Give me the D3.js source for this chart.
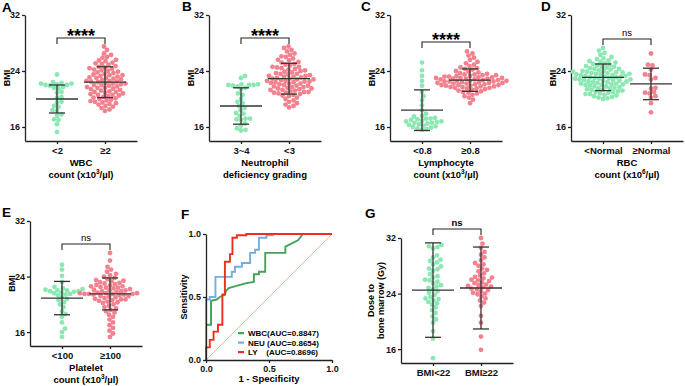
<!DOCTYPE html>
<html>
<head>
<meta charset="utf-8">
<script src="https://cdn.jsdelivr.net/npm/d3@7"></script>
<style>
  body { margin: 0; background: #fff; }
  svg text { font-family: "Liberation Sans", Arial, sans-serif; }
</style>
</head>
<body>
<div id="chart"></div>
<script>
// ---- data ----
const bmiTicks = [16, 24, 32];

const catsA = ["<2", "≥2"];
const wbcLow = [23.5,22.4,22.3,22.2,22.2,22.1,22.0,22.0,21.9,21.7,21.6,21.5,21.0,20.9,20.3,20.2,19.6,19.5,19.0,18.9,18.4,18.3,17.8,17.6,17.1,17.0,16.4,15.3];
const wbcHigh = [27.5,27.0,26.5,26.3,26.0,25.9,25.6,25.5,25.4,25.2,25.1,25.0,24.9,24.7,24.6,24.5,24.4,24.3,24.1,24.0,23.9,23.8,23.7,23.6,23.5,23.4,23.3,23.2,23.1,23.0,23.0,22.9,22.8,22.7,22.6,22.5,22.5,22.4,22.3,22.2,22.1,22.0,22.0,21.9,21.8,21.7,21.6,21.5,21.4,21.3,21.2,21.1,21.0,21.0,20.9,20.8,20.7,20.6,20.5,20.4,20.3,20.2,20.1,20.0,19.9,19.8,19.7,19.6,19.5,19.4,19.3,19.2,19.0,18.9,18.7,18.5,18.3,22.6,23.4,21.6,24.2,20.6,22.2];
const meanA = [20.0, 22.4], sdA = [2.0, 2.2];

const catsB = ["3~4", "<3"];
const neuLow = [23.3,23.0,22.1,22.0,22.0,22.1,21.9,22.0,21.8,21.6,21.4,20.8,20.6,20.0,19.6,19.4,19.0,18.7,18.4,18.0,17.9,17.6,17.2,17.1,17.0,17.2,16.5,16.2,15.8,15.6,15.5];
const neuHigh = [27.5,27.3,27.0,26.8,26.5,26.3,26.1,26.0,25.8,25.6,25.5,25.3,25.2,25.0,24.9,24.8,24.6,24.5,24.4,24.3,24.2,24.0,23.9,23.8,23.7,23.6,23.5,23.4,23.3,23.2,23.2,23.1,23.0,22.9,22.8,22.8,22.7,22.6,22.5,22.5,22.4,22.3,22.2,22.2,22.1,22.0,21.9,21.9,21.8,21.7,21.6,21.5,21.5,21.4,21.3,21.2,21.1,21.0,21.0,20.9,20.8,20.7,20.6,20.5,20.4,20.2,20.0,19.8,19.6,19.4,19.2,19.0,18.8,23.6,24.1,22.4,21.7,22.9,23.3,24.6,20.9,21.3,22.6];
const meanB = [19.0, 22.9], sdB = [2.6, 2.2];

const catsC = ["<0.8", "≥0.8"];
const lyLow = [25.2,24.1,23.3,22.6,21.9,21.0,20.4,19.8,19.1,18.4,17.9,17.6,17.5,17.3,17.2,17.2,17.1,17.0,16.9,16.8,16.8,16.7,16.6,16.6,16.5,16.4,16.3,16.2,16.1,16.0,15.9,15.8,15.7,15.6];
const lyHigh = [26.8,26.5,26.2,25.9,25.6,25.3,25.1,24.9,24.7,24.5,24.4,24.3,24.2,24.0,23.9,23.8,23.7,23.6,23.5,23.5,23.4,23.3,23.3,23.2,23.2,23.1,23.1,23.0,23.0,22.9,22.9,22.8,22.8,22.7,22.7,22.6,22.6,22.5,22.5,22.4,22.4,22.3,22.3,22.2,22.2,22.1,22.1,22.0,22.0,21.9,21.9,21.8,21.8,21.7,21.6,21.6,21.5,21.5,21.4,21.3,21.2,21.1,21.0,20.9,20.8,20.6,20.4,20.2,19.9,19.4,22.5,22.9,23.4,22.0,21.7,22.6,23.0,22.3];
const meanC = [18.4, 22.7], sdC = [2.9, 1.6];

const catsD = ["<Normal", "≥Normal"];
const rbcLow = [27.3,26.9,26.6,26.3,26.0,25.8,25.7,25.5,25.4,25.3,25.1,25.0,24.9,24.8,24.7,24.6,24.5,24.4,24.3,24.2,24.1,24.0,24.0,23.9,23.8,23.8,23.7,23.6,23.6,23.5,23.5,23.4,23.3,23.3,23.2,23.2,23.1,23.1,23.0,23.0,22.9,22.9,22.8,22.8,22.7,22.7,22.6,22.5,22.5,22.4,22.4,22.3,22.2,22.2,22.1,22.0,22.0,21.9,21.8,21.8,21.7,21.6,21.5,21.5,21.4,21.3,21.2,21.1,21.0,21.0,20.9,20.8,20.7,20.6,20.5,20.4,20.3,20.2,20.1,20.0,24.6,23.9,22.6,21.3,25.2,23.4,22.1,20.7,24.3,23.7];
const rbcHigh = [26.5,24.9,24.8,24.2,23.5,23.4,23.0,22.8,21.6,21.5,21.0,20.9,20.8,20.4,20.2,19.4,18.1];
const meanD = [23.1, 22.15], sdD = [1.9, 2.25];

const catsE = ["<100", "≥100"];
const pltLow = [25.7,25.0,24.1,23.2,22.5,22.2,22.1,22.0,22.0,21.9,21.9,21.8,21.7,21.6,21.5,21.3,21.0,20.8,20.6,20.3,20.0,19.6,19.0,18.6,18.2,17.4,16.5,16.0,15.3,21.4,22.3];
const pltHigh = [27.4,26.3,25.4,25.0,24.7,24.4,24.2,24.0,23.8,23.6,23.5,23.3,23.2,23.1,23.0,22.9,22.8,22.7,22.6,22.5,22.4,22.3,22.2,22.1,22.0,21.9,21.8,21.7,21.6,21.6,21.5,21.5,21.5,21.4,21.4,21.3,21.2,21.1,21.0,20.9,20.8,20.7,20.6,20.5,20.4,20.3,20.2,20.0,19.8,19.6,19.4,19.2,19.0,18.8,18.5,18.2,17.8,17.4,17.0,16.6,16.2,15.8,15.3,21.5,21.6,22.4,23.4,20.7,21.2,22.0,21.9,22.6];
const meanE = [20.9, 21.5], sdE = [2.4, 2.3];

const catsG = ["BMI<22", "BMI≥22"];
const doseLow = [31.0,30.8,30.7,30.5,29.5,29.2,28.9,28.7,28.5,28.2,27.6,27.5,27.3,26.8,26.5,26.0,25.7,25.5,25.2,25.0,24.6,24.3,24.1,23.8,23.5,23.2,23.0,22.8,22.4,22.0,21.6,21.2,20.7,20.3,19.8,18.6,17.5,14.7,26.3,27.9,24.8,23.3,22.6,25.9];
const doseHigh = [32.0,31.2,30.6,30.0,29.6,29.2,28.8,28.4,28.2,28.0,27.6,27.2,26.9,26.6,26.4,26.2,26.0,25.8,25.6,25.5,25.3,25.1,25.0,24.9,24.7,24.5,24.3,24.1,23.9,23.6,23.3,23.0,22.7,22.2,20.8,19.8,17.8,15.9,25.9,26.3,24.6,27.4,25.2,24.0];
const meanG = [24.5, 24.8], sdG = [6.8, 5.9];

// ROC curves (1 - specificity, sensitivity)
const rocTicks = [0, 0.5, 1];
const wbcFpr = [0,0,0.04,0.04,0.085,0.11,0.15,0.16,0.18,0.25,0.32,0.38,0.38,0.42,0.42,0.47,0.47,0.63,0.63,0.73,0.77,1];
const wbcTpr = [0,0.28,0.28,0.47,0.48,0.50,0.52,0.55,0.57,0.59,0.61,0.62,0.68,0.68,0.70,0.70,0.85,0.85,0.90,0.95,1,1];
const neuFpr = [0,0,0.03,0.03,0.075,0.075,0.205,0.205,0.23,0.23,0.285,0.285,0.35,0.35,0.39,0.39,0.42,0.42,0.48,0.48,0.53,0.53,1];
const neuTpr = [0,0.48,0.48,0.50,0.50,0.66,0.66,0.70,0.70,0.74,0.74,0.77,0.77,0.85,0.85,0.875,0.875,0.97,0.97,0.99,0.99,1,1];
const lyFpr = [0,0,0.03,0.03,0.06,0.06,0.095,0.095,0.13,0.13,0.15,0.15,0.19,0.19,0.21,0.21,0.245,0.245,0.32,0.32,1];
const lyTpr = [0,0.10,0.10,0.16,0.16,0.225,0.225,0.28,0.28,0.52,0.52,0.78,0.78,0.84,0.84,0.97,0.97,0.99,0.99,1,1];
const rocNames = ["WBC(AUC=0.8847)", "NEU (AUC=0.8654)", "LY    (AUC=0.8696)"];

// ---- drawing ----
const W = 685, H = 386;
const green = "#8be8b2", pink = "#f3818e", ink = "#222";

const svg = d3.select("#chart").append("svg")
    .attr("width", W)
    .attr("height", H);
svg.append("rect").attr("width", W).attr("height", H).attr("fill", "#fff");

function styleAxis(sel) {
    sel.select(".domain").attr("stroke", ink).attr("stroke-width", 1.3);
    sel.selectAll(".tick line").attr("stroke", ink).attr("stroke-width", 1.3);
    sel.selectAll(".tick text")
       .attr("fill", "#111")
       .style("font-size", "9px")
       .style("font-weight", "bold");
}

// simple beeswarm: each point slides sideways until it stops overlapping
function swarm(values, cx, y, minDist) {
    const placed = [];
    values.slice().sort((a, b) => a - b).forEach(v => {
        const py = y(v);
        let k = 0, dx;
        while (dx === undefined) {
            const cands = k === 0 ? [0] : [k * 0.5, -k * 0.5];
            dx = cands.find(c => placed.every(p => (p.x - c) ** 2 + (p.y - py) ** 2 >= minDist * minDist));
            k++;
        }
        placed.push({ x: dx, y: py });
    });
    return placed.map(p => ({ cx: cx + p.x, cy: p.y }));
}

function scatterPanel(p) {
    const g = svg.append("g");
    const y = d3.scaleLinear().domain([14, 32]).range([p.yBottom, p.yTop]);
    const x = d3.scalePoint().domain(p.cats).range([p.axisX, p.axisX + 112]).padding(2 / 3);

    g.append("g")
     .attr("transform", `translate(${p.axisX},0)`)
     .call(d3.axisLeft(y).tickValues(bmiTicks).tickSize(3).tickSizeOuter(0).tickPadding(2))
     .call(styleAxis);

    const xa = g.append("g")
     .attr("transform", `translate(0,${p.yBottom})`)
     .call(d3.axisBottom(x).tickSize(3).tickSizeOuter(0).tickPadding(3))
     .call(styleAxis);
    xa.selectAll(".tick text").style("font-size", "9.5px");

    // dots
    [p.low, p.high].forEach((vals, i) => {
        g.append("g").selectAll("circle")
         .data(swarm(vals, x(p.cats[i]), y, 4.4))
         .join("circle")
         .attr("cx", d => d.cx)
         .attr("cy", d => d.cy)
         .attr("r", 2.4)
         .attr("fill", i === 0 ? green : pink);
    });

    // mean and SD
    p.mean.forEach((m, i) => {
        const cx = x(p.cats[i]);
        const lo = y(m - p.sd[i]), hi = y(m + p.sd[i]), my = y(m);
        const s = g.append("g").attr("stroke", "#333").attr("stroke-width", 1.3);
        s.append("line").attr("x1", cx).attr("x2", cx).attr("y1", lo).attr("y2", hi);
        s.append("line").attr("x1", cx - 8).attr("x2", cx + 8).attr("y1", lo).attr("y2", lo);
        s.append("line").attr("x1", cx - 8).attr("x2", cx + 8).attr("y1", hi).attr("y2", hi);
        s.append("line").attr("x1", cx - 21).attr("x2", cx + 21).attr("y1", my).attr("y2", my);
    });

    // significance bracket
    const x0 = x(p.cats[0]), x1 = x(p.cats[1]), by = p.bracketY;
    g.append("path")
     .attr("d", `M${x0},${by + 6}V${by}H${x1}V${by + 6}`)
     .attr("fill", "none")
     .attr("stroke", ink)
     .attr("stroke-width", 1.1);
    if (p.sig === "****") {
        g.append("text")
         .attr("x", (x0 + x1) / 2).attr("y", by + 4)
         .attr("text-anchor", "middle")
         .style("font-size", "18px").style("font-weight", "bold")
         .text("****");
    } else {
        g.append("text")
         .attr("x", (x0 + x1) / 2).attr("y", by - 3)
         .attr("text-anchor", "middle")
         .style("font-size", "9.5px").style("font-weight", p.sigBold ? "bold" : "normal")
         .text(p.sig);
    }

    // y title
    const midY = (p.yTop + p.yBottom) / 2;
    p.yTitle.forEach((t, i) => {
        g.append("text")
         .attr("transform", `translate(${p.axisX - p.yTitleOff[i]},${midY}) rotate(-90)`)
         .attr("text-anchor", "middle")
         .style("font-size", "9px").style("font-weight", "bold")
         .text(t);
    });

    // x title
    const cxm = p.axisX + 56;
    p.xTitle.forEach((t, i) => {
        const tx = g.append("text")
         .attr("x", cxm).attr("y", p.yBottom + 25 + i * 11.5)
         .attr("text-anchor", "middle")
         .style("font-size", "9.5px").style("font-weight", "bold");
        if (Array.isArray(t)) {
            tx.append("tspan").text(t[0]);
            tx.append("tspan").attr("dy", -3.5).style("font-size", "6.5px").text(t[1]);
            tx.append("tspan").attr("dy", 3.5).text(t[2]);
        } else {
            tx.text(t);
        }
    });

    svg.append("text")
       .attr("x", p.letterPos[0]).attr("y", p.letterPos[1])
       .style("font-size", "13.5px").style("font-weight", "bold")
       .text(p.letter);
}

scatterPanel({ letter: "A", letterPos: [2, 12], axisX: 25, yTop: 15, yBottom: 141, cats: catsA,
    low: wbcLow, high: wbcHigh, mean: meanA, sd: sdA, bracketY: 38, sig: "****",
    yTitle: ["BMI"], yTitleOff: [15], xTitle: ["WBC", ["count (x10", "3", "/µl)"]] });
scatterPanel({ letter: "B", letterPos: [182, 11], axisX: 209, yTop: 15, yBottom: 141, cats: catsB,
    low: neuLow, high: neuHigh, mean: meanB, sd: sdB, bracketY: 38, sig: "****",
    yTitle: ["BMI"], yTitleOff: [15], xTitle: ["Neutrophil", "deficiency grading"] });
scatterPanel({ letter: "C", letterPos: [361, 11], axisX: 390, yTop: 15, yBottom: 141, cats: catsC,
    low: lyLow, high: lyHigh, mean: meanC, sd: sdC, bracketY: 42, sig: "****",
    yTitle: ["BMI"], yTitleOff: [15], xTitle: ["Lymphocyte", ["count (x10", "3", "/µl)"]] });
scatterPanel({ letter: "D", letterPos: [541, 11], axisX: 571, yTop: 15, yBottom: 141, cats: catsD,
    low: rbcLow, high: rbcHigh, mean: meanD, sd: sdD, bracketY: 39, sig: "ns",
    yTitle: ["BMI"], yTitleOff: [15], xTitle: ["RBC", ["count (x10", "6", "/µl)"]] });
scatterPanel({ letter: "E", letterPos: [2, 217], axisX: 30, yTop: 221, yBottom: 346, cats: catsE,
    low: pltLow, high: pltHigh, mean: meanE, sd: sdE, bracketY: 244, sig: "ns",
    yTitle: ["BMI"], yTitleOff: [15], xTitle: ["Platelet", ["count (x10", "3", "/µl)"]] });
scatterPanel({ letter: "G", letterPos: [365, 218], axisX: 401, yTop: 238, yBottom: 363, cats: catsG,
    low: doseLow, high: doseHigh, mean: meanG, sd: sdG, bracketY: 229, sig: "ns", sigBold: true,
    yTitle: ["Dose to", "bone marrow (Gy)"], yTitleOff: [27, 17], xTitle: [] });

// ---- panel F: ROC ----
(function () {
    const g = svg.append("g");
    const x = d3.scaleLinear().domain([0, 1]).range([206, 332]);
    const y = d3.scaleLinear().domain([0, 1]).range([360, 234]);

    g.append("line")
     .attr("x1", x(0)).attr("y1", y(0)).attr("x2", x(1)).attr("y2", y(1))
     .attr("stroke", "#f4b29c").attr("stroke-width", 1);

    const line = d3.line().x(d => x(d[0])).y(d => y(d[1]));
    const curves = [
        { fpr: wbcFpr, tpr: wbcTpr, color: "#42a35a" },
        { fpr: neuFpr, tpr: neuTpr, color: "#72aee3" },
        { fpr: lyFpr, tpr: lyTpr, color: "#ec2f23" }
    ];
    curves.forEach(c => {
        g.append("path")
         .datum(d3.zip(c.fpr, c.tpr))
         .attr("d", line)
         .attr("fill", "none")
         .attr("stroke", c.color)
         .attr("stroke-width", 1.9);
    });

    g.append("g")
     .attr("transform", "translate(0,360)")
     .call(d3.axisBottom(x).tickValues(rocTicks).tickFormat(d3.format(".1f")).tickSize(3).tickSizeOuter(0).tickPadding(3))
     .call(styleAxis);
    g.append("g")
     .attr("transform", "translate(206,0)")
     .call(d3.axisLeft(y).tickValues(rocTicks).tickFormat(d3.format(".1f")).tickSize(3).tickSizeOuter(0).tickPadding(2))
     .call(styleAxis);

    g.append("text")
     .attr("x", 269).attr("y", 382)
     .attr("text-anchor", "middle")
     .style("font-size", "9.5px").style("font-weight", "bold")
     .text("1 - Specificity");
    g.append("text")
     .attr("transform", "translate(187,297) rotate(-90)")
     .attr("text-anchor", "middle")
     .style("font-size", "9px").style("font-weight", "bold")
     .text("Sensitivity");

    const leg = g.append("g").attr("transform", "translate(238,333)");
    rocNames.forEach((n, i) => {
        leg.append("rect")
         .attr("x", 0).attr("y", i * 9.5 - 1)
         .attr("width", 6).attr("height", 2.2)
         .attr("fill", curves[i].color);
        leg.append("text")
         .attr("x", 10).attr("y", i * 9.5 + 3)
         .style("font-size", "8px").style("font-weight", "bold")
         .style("white-space", "pre")
         .text(n);
    });

    svg.append("text")
       .attr("x", 181).attr("y", 219)
       .style("font-size", "13.5px").style("font-weight", "bold")
       .text("F");
})();
</script>
</body>
</html>
